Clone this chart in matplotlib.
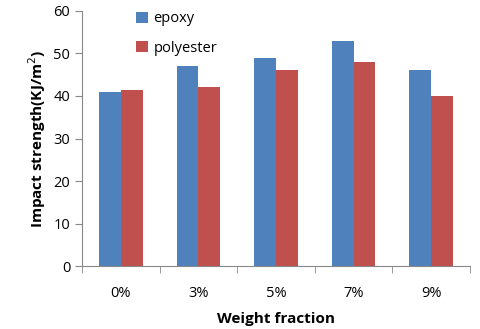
import numpy as np
import matplotlib.pyplot as plt

plt.rcParams['font.family'] = ['Open Sans', 'DejaVu Sans']

categories = ["0%", "3%", "5%", "7%", "9%"]
epoxy = [41, 47, 49, 53, 46]
polyester = [41.3, 42, 46, 48, 40]

fig = plt.figure(figsize=(4.8, 3.29), dpi=100)
ax = fig.add_axes([0.171, 0.191, 0.808, 0.776])

x = np.arange(len(categories))
w = 0.28
ax.bar(x - w / 2, epoxy, w, color="#4F81BD", label="epoxy")
ax.bar(x + w / 2, polyester, w, color="#C0504D", label="polyester")

ax.set_xlim(-0.5, len(categories) - 0.5)
ax.set_ylim(0, 60)
ax.set_yticks(range(0, 61, 10))
ax.set_xticks(x)
ax.set_xticklabels(categories, fontsize=10.5)
ax.set_xticks(np.arange(-0.5, len(categories), 1), minor=True)
ax.tick_params(axis="x", which="major", length=0, pad=14)
ax.tick_params(axis="x", which="minor", length=5, color="#888888")
ax.tick_params(axis="y", length=5, color="#888888", labelsize=10.5)

for s in ["top", "right"]:
    ax.spines[s].set_visible(False)
for s in ["left", "bottom"]:
    ax.spines[s].set_color("#888888")

ax.set_xlabel("Weight fraction", fontsize=11, fontweight="bold", labelpad=8)
ax.set_ylabel("Impact strength(KJ/m$^2$)", fontsize=11, fontweight="bold")

ax.legend(loc="upper left", bbox_to_anchor=(0.105, 1.05), frameon=False,
          fontsize=10.5, labelspacing=1.0, handlelength=0.8, handleheight=0.8,
          handletextpad=0.4)

fig.savefig("out.png", dpi=100)
